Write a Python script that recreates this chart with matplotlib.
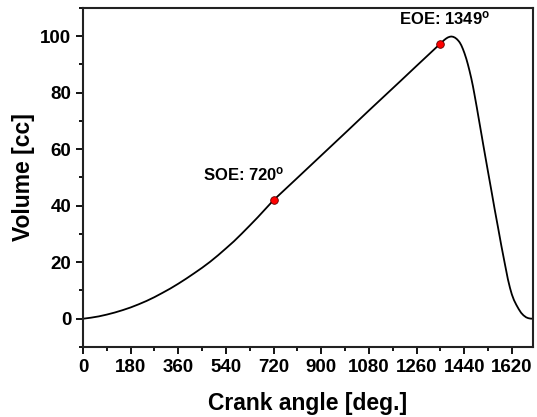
import matplotlib
matplotlib.use("Agg")
import matplotlib.pyplot as plt
from matplotlib.ticker import MultipleLocator

plt.rcParams['font.family'] = ['Liberation Sans', 'DejaVu Sans']
plt.rcParams['mathtext.default'] = 'regular'

# volume curve (crank angle in deg, volume in cc)
angle = [0, 30, 60, 90, 120, 150, 180, 210, 240, 270, 300, 330, 360, 390,
         420, 450, 480, 510, 540, 570, 600, 630, 660, 690, 720,
         800, 900, 1000, 1080, 1200, 1260, 1300, 1349,
         1357, 1365, 1372, 1378, 1385, 1391, 1398, 1405, 1412, 1418, 1423,
         1429, 1435, 1441, 1448, 1454, 1460, 1467, 1473, 1478, 1483, 1488,
         1492, 1497, 1502, 1507, 1511, 1520, 1530, 1543, 1555, 1568, 1580,
         1593, 1605, 1613, 1620, 1628, 1637, 1646, 1655, 1664, 1674, 1682,
         1690, 1700]
volume = [0, 0.37, 0.84, 1.47, 2.2, 3.05, 4.0, 5.1, 6.3, 7.65, 9.15, 10.7, 12.4, 14.2,
          16.1, 18.05, 20.15, 22.45, 24.9, 27.4, 30.15, 33.0, 35.9, 38.95, 42.0,
          49.0, 57.8, 66.6, 73.7, 84.2, 89.5, 93.0, 97.3,
          98.0, 98.7, 99.2, 99.55, 99.8, 99.9, 99.8, 99.5, 99.0, 98.4, 97.8,
          96.8, 95.5, 94.0, 92.0, 90.0, 87.8, 85.0, 82.3, 79.8, 77.2, 74.6,
          72.4, 69.7, 67.0, 64.3, 62.1, 57.3, 52.0, 45.2, 38.8, 32.2, 26.0,
          19.7, 14.0, 10.9, 8.6, 6.6, 4.9, 3.4, 2.1, 1.2, 0.5, 0.2,
          0.05, 0]

# start / end of expansion markers
events = ['SOE', 'EOE']
event_angle = [720, 1349]
event_volume = [42.0, 97.3]

fig = plt.figure(figsize=(5.37, 4.17), dpi=100)
ax = fig.add_axes([0.1546, 0.1679, 0.838, 0.813])

ax.plot(angle, volume, color='black', linewidth=1.3)
ax.plot(event_angle, event_volume, 'o', color='red', markeredgecolor='#600000',
        markersize=5.5, markeredgewidth=0.6)

ax.text(event_angle[0] + 40, event_volume[0] + 6, events[0] + ': 720$^{o}$',
        ha='right', va='bottom', fontsize=12, fontweight='bold')
ax.text(event_angle[1] + 15, event_volume[1] + 6, events[1] + ': 1349$^{o}$',
        ha='center', va='bottom', fontsize=12, fontweight='bold')

ax.set_xlim(0, 1700)
ax.set_ylim(-10, 110)
ax.xaxis.set_major_locator(MultipleLocator(180))
ax.xaxis.set_minor_locator(MultipleLocator(90))
ax.yaxis.set_major_locator(MultipleLocator(20))
ax.yaxis.set_minor_locator(MultipleLocator(10))

for s in ax.spines.values():
    s.set_linewidth(1.5)
    s.set_color('#222222')
ax.tick_params(which='major', direction='out', length=5, width=1.3, labelsize=13.5)
ax.tick_params(which='minor', direction='out', length=3, width=1.3)
for lbl in ax.get_xticklabels() + ax.get_yticklabels():
    lbl.set_fontweight('bold')

ax.set_xlabel('Crank angle [deg.]', fontsize=16.5, fontweight='bold', labelpad=12)
ax.set_ylabel('Volume [cc]', fontsize=16.5, fontweight='bold', labelpad=4)

fig.savefig('out.png', dpi=100)
